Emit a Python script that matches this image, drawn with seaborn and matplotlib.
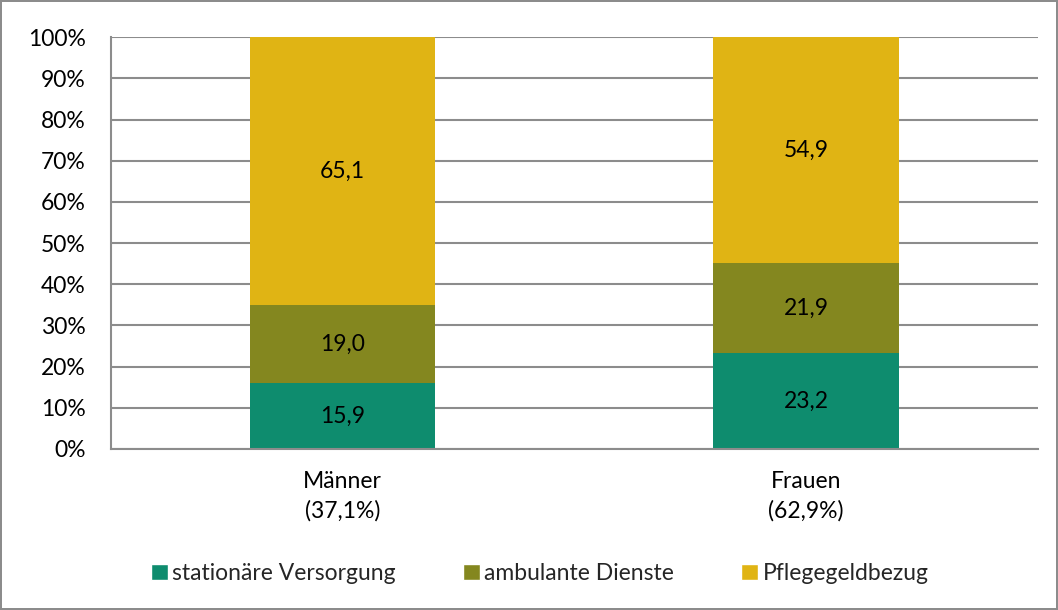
import matplotlib
matplotlib.use("Agg")
import matplotlib.pyplot as plt
import seaborn as sns
import numpy as np
import pandas as pd
from matplotlib.patches import Patch

categories = ["Männer\n(37,1%)", "Frauen\n(62,9%)"]
series_names = ["stationäre Versorgung", "ambulante Dienste", "Pflegegeldbezug"]
stationaer = [15.9, 23.2]
ambulant = [19.0, 21.9]
pflegegeld = [65.1, 54.9]
colors = ["#0E8C6E", "#84871F", "#E0B414"]
yticks = [0, 10, 20, 30, 40, 50, 60, 70, 80, 90, 100]

sns.set_theme(style="white")
plt.rcParams['font.family'] = ['Lato', 'DejaVu Sans']
FS = 16.5

fig = plt.figure(figsize=(10.58, 6.10), dpi=100)
fig.patch.set_edgecolor("#8c8c8c")
fig.patch.set_linewidth(1.5)
ax = fig.add_axes([0.1049, 0.264, 0.8761, 0.675])

df = pd.DataFrame({"cat": categories, "s": stationaer, "a": ambulant, "p": pflegegeld})
bottom = np.zeros(len(categories))
for col, name, c in zip(["s", "a", "p"], series_names, colors):
    sns.barplot(data=df, x="cat", y=col, color=c, width=0.4, bottom=bottom,
                ax=ax, saturation=1, label=name, linewidth=0, edgecolor=c)
    bottom = bottom + df[col].values

for cont in ax.containers:
    labels = [f"{v:.1f}".replace(".", ",") for v in cont.datavalues]
    ax.bar_label(cont, labels=labels, label_type="center", fontsize=FS, color="black")

ax.set_xlim(-0.5, 1.5)
ax.set_ylim(0, 100)
ax.set_yticks(yticks)
ax.set_yticklabels([f"{t}%" for t in yticks], fontsize=FS, color="black")
ax.tick_params(axis="x", labelsize=FS, pad=16, length=0, labelcolor="black")
ax.tick_params(axis="y", pad=18, length=0)
for t in ax.get_xticklabels():
    t.set_linespacing(1.45)
ax.set_xlabel("")
ax.set_ylabel("")
ax.yaxis.grid(True, color="#8c8c8c", linewidth=1.5)
ax.set_axisbelow(True)
for s in ["top", "right"]:
    ax.spines[s].set_visible(False)
for s in ["left", "bottom"]:
    ax.spines[s].set_color("#8c8c8c")
    ax.spines[s].set_linewidth(1.5)

handles = [Patch(facecolor=c, label=n) for c, n in zip(colors, series_names)]
if ax.get_legend():
    ax.get_legend().remove()
fig.legend(handles=handles, loc="center", bbox_to_anchor=(0.51, 0.06), ncol=3,
           frameon=False, fontsize=FS, handlelength=0.75, handleheight=0.75,
           handletextpad=0.2, columnspacing=2.9)

fig.savefig("out.png", dpi=100, edgecolor=fig.get_edgecolor())
